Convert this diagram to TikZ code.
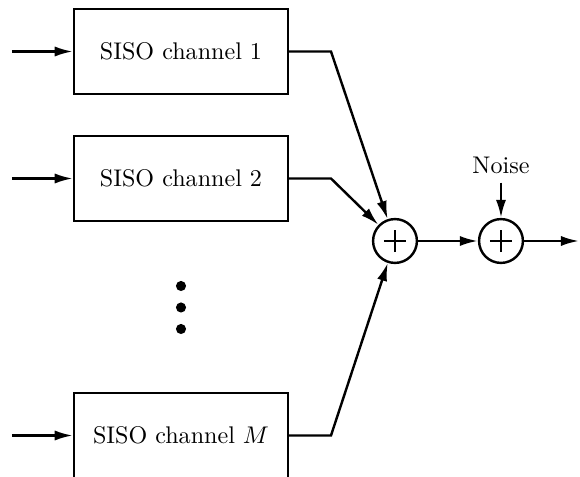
\documentclass[tikz,border=0pt]{standalone}
\usetikzlibrary{arrows.meta}
\begin{document}
\begin{tikzpicture}[x=0.415pt,y=-0.415pt,
  line width=1pt,
  chbox/.style={draw,rectangle,minimum width=88.8pt,minimum height=35.3pt,inner sep=0pt},
  adder/.style={draw,circle,minimum size=18.2pt,inner sep=0pt,
    path picture={\draw[line width=0.8pt] ([xshift=-4.6pt]path picture bounding box.center) -- ([xshift=4.6pt]path picture bounding box.center);
                  \draw[line width=0.8pt] ([yshift=-4.6pt]path picture bounding box.center) -- ([yshift=4.6pt]path picture bounding box.center);}},
  arr/.style={-{Latex[length=7.5pt,width=4.2pt]}},
  dot/.style={fill,circle,minimum size=4.2pt,inner sep=0pt}]
\useasboundingbox (0,0) rectangle (580,477);
\clip (0,0) rectangle (580,477);
% channel boxes
\node[chbox] (c1) at (181,51.5) {SISO channel 1};
\node[chbox] (c2) at (181,178.5) {SISO channel 2};
\node[chbox] (cM) at (181,435.5) {SISO channel $M$};
% inputs
\coordinate (i1) at (12,51.5);
\coordinate (i2) at (12,178.5);
\coordinate (iM) at (12,435.5);
\draw[arr] (i1) -- (c1);
\draw[arr] (i2) -- (c2);
\draw[arr] (iM) -- (cM);
% dots
\node[dot] (d1) at (181,286) {};
\node[dot] (d2) at (181,307.5) {};
\node[dot] (d3) at (181,329) {};
% adders
\node[adder] (a1) at (395,241) {};
\node[adder] (a2) at (501,241) {};
% bends
\coordinate (b1) at (331,51.5);
\coordinate (b2) at (331,178.5);
\coordinate (bM) at (331,435.5);
\draw[arr] (c1.east) -- (b1) -- (a1);
\draw[arr] (c2.east) -- (b2) -- (a1);
\draw[arr] (cM.east) -- (bM) -- (a1);
\draw[arr] (a1) -- (a2);
% noise
\node (n) at (501,165) {Noise};
\draw[arr] (n) -- (a2);
\coordinate (o) at (579,241);
\draw[arr] (a2) -- (o);
\end{tikzpicture}
\end{document}
